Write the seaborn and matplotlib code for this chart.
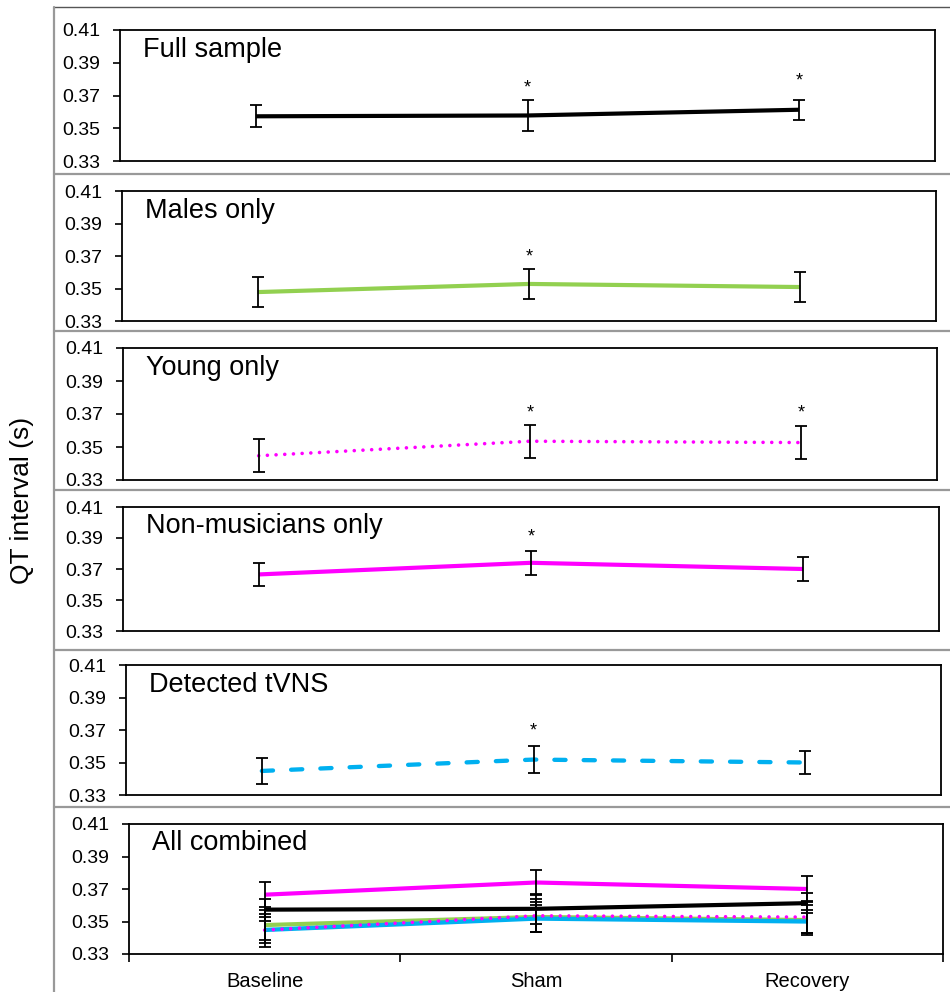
import numpy as np
import matplotlib
matplotlib.use("Agg")
import matplotlib.pyplot as plt
from matplotlib.lines import Line2D
import seaborn as sns

# phases on the x axis
phases = ["Baseline", "Sham", "Recovery"]

# mean QT interval (s) and error bars per group
full_mean = [0.3573, 0.3578, 0.3613]
full_err = [0.0068, 0.0092, 0.0061]
males_mean = [0.3478, 0.3528, 0.3509]
males_err = [0.0092, 0.0092, 0.0092]
young_mean = [0.3447, 0.3535, 0.3527]
young_err = [0.0101, 0.0101, 0.0100]
nonmus_mean = [0.3665, 0.3740, 0.3700]
nonmus_err = [0.0076, 0.0078, 0.0078]
tvns_mean = [0.3448, 0.3518, 0.3500]
tvns_err = [0.0079, 0.0082, 0.0070]

# where the significance stars sit (None = no star)
full_star = [None, 0.3746, 0.3790]
males_star = [None, 0.3694, None]
young_star = [None, 0.3708, 0.3706]
nonmus_star = [None, 0.3909, None]
tvns_star = [None, 0.3696, None]

titles = ["Full sample", "Males only", "Young only", "Non-musicians only",
          "Detected tVNS", "All combined"]
yticks = [0.33, 0.35, 0.37, 0.39, 0.41]

sns.set_theme(style="white")
plt.rcParams['font.family'] = ['Liberation Sans', 'DejaVu Sans']
plt.rcParams['text.color'] = 'black'
plt.rcParams['xtick.color'] = 'black'
plt.rcParams['ytick.color'] = 'black'

W, H = 950, 992
fig = plt.figure(figsize=(W / 100, H / 100), dpi=100)

# series: (mean, err, stars, color, linestyle, lw)
series = {
    "full": (full_mean, full_err, full_star, "black", "-", 3.0),
    "males": (males_mean, males_err, males_star, "#92D050", "-", 3.0),
    "young": (young_mean, young_err, young_star, "#FF00FF", (0, (0.01, 2.4)), 2.6),
    "nonmus": (nonmus_mean, nonmus_err, nonmus_star, "#FF00FF", "-", 3.0),
    "tvns": (tvns_mean, tvns_err, tvns_star, "#00B0F0", (0, (2.6, 4.2)), 3.1),
}
order = ["full", "males", "young", "nonmus", "tvns"]

# panel boxes in pixels: left, right, top, bottom
boxes = [(120, 935, 30, 161), (122, 936, 191, 321), (123, 937, 348, 480),
         (123, 939, 507, 631), (126, 941, 665, 795), (129, 943, 824, 954)]

x = np.arange(len(phases))


def draw(ax, key, stars=True, ls=None):
    m, e, st, c, ls0, lw = series[key]
    sns.lineplot(x=x, y=m, ax=ax, color=c, lw=lw, linestyle=ls or ls0,
                 dash_capstyle="round", solid_capstyle="butt", sort=False)
    ax.errorbar(x, m, yerr=e, fmt="none", ecolor="black", elinewidth=1.3,
                capsize=4, capthick=1.3, zorder=3)
    if stars:
        for i, s in enumerate(st):
            if s is not None:
                ax.text(i, s, "*", ha="center", va="center", fontsize=13)


for k, (l, r, t, b) in enumerate(boxes):
    ax = fig.add_axes([l / W, 1 - b / H, (r - l) / W, (b - t) / H])
    if k < 5:
        draw(ax, order[k])
    else:
        draw(ax, "full", stars=False)
        draw(ax, "nonmus", stars=False)
        draw(ax, "males", stars=False)
        draw(ax, "tvns", stars=False, ls="-")
        draw(ax, "young", stars=False)
    ax.set_xlim(-0.5, 2.5)
    ax.set_ylim(0.33, 0.41)
    ax.set_yticks(yticks)
    ax.set_yticklabels([f"{v:.2f}" for v in yticks])
    ax.tick_params(axis="y", direction="out", length=5, width=1.2,
                   labelsize=14, pad=9, left=True, colors="black")
    for sp in ax.spines.values():
        sp.set_color("black")
        sp.set_linewidth(1.3)
    ax.set_xlabel("")
    ax.set_ylabel("")
    ax.text(0.028, 0.85, titles[k], transform=ax.transAxes, fontsize=19.5,
            ha="left", va="center", color="black")
    if k == 5:
        ax.set_xticks([-0.5, 0.5, 1.5, 2.5])
        ax.set_xticklabels([])
        ax.set_xticks(x, minor=True)
        ax.set_xticklabels(phases, minor=True)
        ax.tick_params(axis="x", which="major", direction="out", length=6,
                       width=1.2, bottom=True)
        ax.tick_params(axis="x", which="minor", length=0, pad=13,
                       labelsize=14.5, bottom=True)
    else:
        ax.set_xticks([])

fig.text(22 / W, 1 - 500 / H, "QT interval (s)", rotation=90, fontsize=19,
         ha="center", va="center", color="black")

# outer frame lines between panels
fig.add_artist(Line2D([54 / W, 1], [1 - 7 / H, 1 - 7 / H], color="#555555", lw=1.0))
fig.add_artist(Line2D([54 / W, 54 / W], [0, 1 - 7 / H], color="#999999", lw=1.6))
for yy in [174, 331, 490, 650, 807]:
    fig.add_artist(Line2D([54 / W, 1], [1 - yy / H, 1 - yy / H],
                          color="#999999", lw=1.6))

fig.savefig("out.png", dpi=100)
